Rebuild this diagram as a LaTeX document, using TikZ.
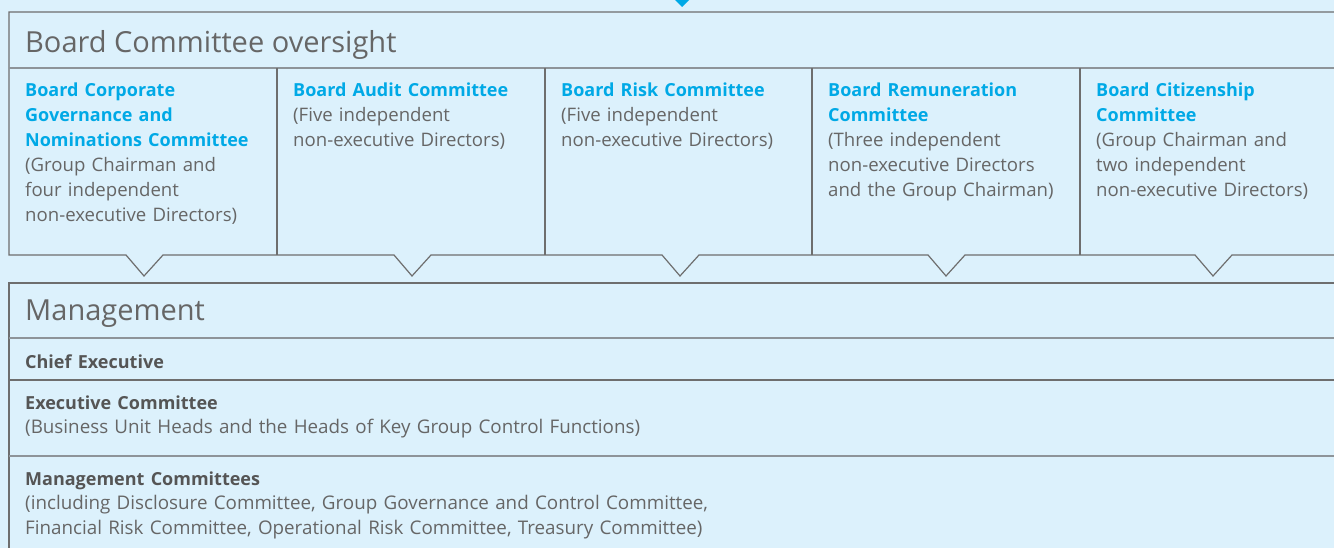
\documentclass[tikz,border=0pt]{standalone}
\usepackage{fontspec}
\setmainfont{Open Sans}
\definecolor{bgblue}{HTML}{DCF1FC}
\definecolor{linegray}{HTML}{6E6E6E}
\definecolor{sepgray}{HTML}{8E9499}
\definecolor{titleblue}{HTML}{00A9E6}
\definecolor{txtgray}{HTML}{666666}
\definecolor{boldgray}{HTML}{555555}
\tikzset{
  frame/.style={draw=linegray, line width=1.2pt},
  sep/.style={draw=sepgray, line width=1.2pt},
  bigtitle/.style={anchor=base west, inner sep=0pt, text=txtgray, font=\fontsize{29}{34}\selectfont},
  coltext/.style={anchor=north west, inner sep=0pt, text width=260pt, align=left, text=txtgray, font=\fontsize{18.6}{25}\selectfont},
  mgtext/.style={anchor=north west, inner sep=0pt, text width=1250pt, align=left, text=txtgray, font=\fontsize{18.8}{24.5}\selectfont},
}
\newcommand{\hd}[1]{\textcolor{titleblue}{\fontsize{18}{25}\selectfont\bfseries #1}}
\newcommand{\mh}[1]{\textcolor{boldgray}{\fontsize{18}{24.5}\selectfont\bfseries #1}}
\begin{document}
\begin{tikzpicture}[x=1pt,y=-1pt]
\fill[bgblue] (0,0) rectangle (1334,548);
\useasboundingbox (0,0) rectangle (1334,548);
% incoming arrow tip
\fill[titleblue] (675,0) -- (689,0) -- (682,7) -- cycle;
% top box
\draw[frame] (1340,12) -- (9,12) -- (9,255)
  -- (126,255) -- (144,276) -- (163,255)
  -- (394,255) -- (412,276) -- (431,255)
  -- (662,255) -- (680,276) -- (699,255)
  -- (928,255) -- (946,276) -- (965,255)
  -- (1195,255) -- (1213,276) -- (1232,255) -- (1340,255);
\draw[sep] (9,68) -- (1340,68);
\foreach \x in {277,545,812,1080} \draw[frame] (\x,68) -- (\x,255);
\node[bigtitle] (t1) at (25,53) {Board Committee oversight};
\node[coltext] (c1) at (25,79) {\strut\hd{Board Corporate\\Governance and\\Nominations Committee}\\(Group Chairman and\\four independent\\non-executive Directors)};
\node[coltext] (c2) at (293,79) {\strut\hd{Board Audit Committee}\\(Five independent\\non-executive Directors)};
\node[coltext] (c3) at (561,79) {\strut\hd{Board Risk Committee}\\(Five independent\\non-executive Directors)};
\node[coltext] (c4) at (828,79) {\strut\hd{Board Remuneration\\Committee}\\(Three independent\\non-executive Directors\\and the Group Chairman)};
\node[coltext] (c5) at (1096,79) {\strut\hd{Board Citizenship\\Committee}\\(Group Chairman and\\two independent\\non-executive Directors)};
% management box
\draw[frame] (1340,283) -- (9,283) -- (9,560);
\draw[sep] (9,338) -- (1340,338);
\draw[frame] (9,380) -- (1340,380);
\draw[sep] (9,456) -- (1340,456);
\node[bigtitle] (t2) at (25,320) {Management};
\node[mgtext] (m1) at (25,351) {\strut\mh{Chief Executive}};
\node[mgtext] (m2) at (25,392) {\strut\mh{Executive Committee}\\(Business Unit Heads and the Heads of Key Group Control Functions)};
\node[mgtext] (m3) at (25,468) {\strut\mh{Management Committees}\\(including Disclosure Committee, Group Governance and Control Committee,\\Financial Risk Committee, Operational Risk Committee, Treasury Committee)};
\end{tikzpicture}
\end{document}
